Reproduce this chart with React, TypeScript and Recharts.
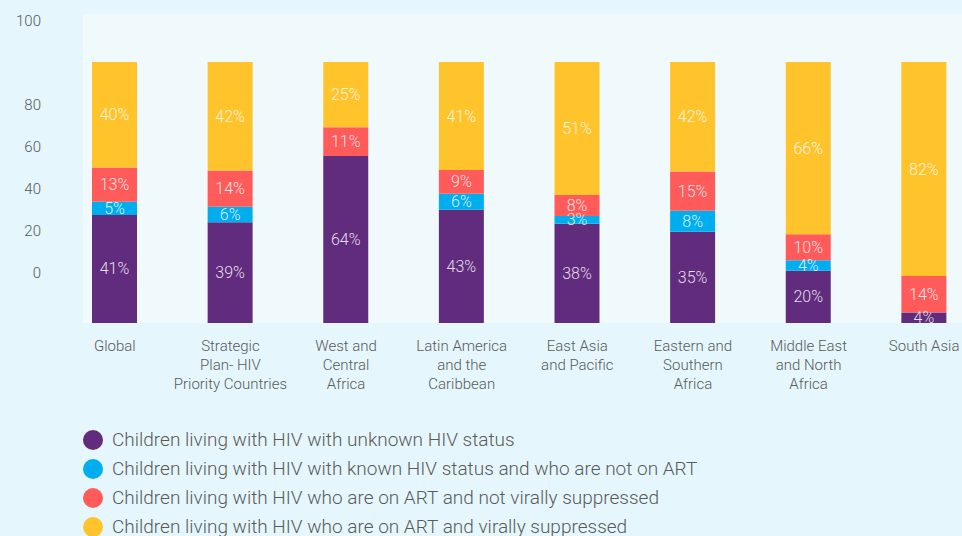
import React from 'react';
import { BarChart, Bar, XAxis, YAxis, Legend, LabelList } from 'recharts';

const CATEGORIES = [
  'Global',
  'Strategic\nPlan- HIV\nPriority Countries',
  'West and\nCentral\nAfrica',
  'Latin America\nand the\nCaribbean',
  'East Asia\nand Pacific',
  'Eastern and\nSouthern\nAfrica',
  'Middle East\nand North\nAfrica',
  'South Asia',
];

const UNKNOWN_STATUS = [41, 39, 64, 43, 38, 35, 20, 4];
const KNOWN_NOT_ON_ART = [5, 6, 0, 6, 3, 8, 4, 0];
const ON_ART_NOT_SUPPRESSED = [13, 14, 11, 9, 8, 15, 10, 14];
const ON_ART_SUPPRESSED = [40, 42, 25, 41, 51, 42, 66, 82];

const SERIES = [
  { key: 'unknown', name: 'Children living with HIV with unknown HIV status', color: '#622c7e', values: UNKNOWN_STATUS },
  { key: 'known', name: 'Children living with HIV with known HIV status and who are not on ART', color: '#00aeef', values: KNOWN_NOT_ON_ART },
  { key: 'notSuppressed', name: 'Children living with HIV who are on ART and not virally suppressed', color: '#ff5b5b', values: ON_ART_NOT_SUPPRESSED },
  { key: 'suppressed', name: 'Children living with HIV who are on ART and virally suppressed', color: '#ffc42c', values: ON_ART_SUPPRESSED },
];

const Y_LABELS = [0, 20, 40, 60, 80, 100];

// the source prints its y labels on a scale of their own, not lined up with the bars:
// "0" sits at ~19% of the bar height, each step of 20 adds ~16%, and "100" floats one step higher
const yLabelPos = (v: number) => 0.193 + (v === 100 ? 120 : v) * 0.00805;

const data = CATEGORIES.map((name, i) => {
  const row: Record<string, string | number> = { name };
  SERIES.forEach((s) => { row[s.key] = s.values[i]; });
  return row;
});

const FONT = 'Roboto, "Noto Sans", sans-serif';

const CategoryTick = (props: any) => {
  const { x, y, payload } = props;
  const lines = String(payload.value).split('\n');
  return (
    <text x={x} y={y} textAnchor="middle" fill="#5a5a5a" fontSize={15} fontWeight={300} fontFamily={FONT}>
      {lines.map((line, i) => (
        <tspan key={i} x={x} dy={i === 0 ? '0.71em' : 19}>{line}</tspan>
      ))}
    </text>
  );
};

const segmentLabel = (props: any) => {
  const { x, y, width, height, value } = props;
  if (!value) return null;
  return (
    <text
      x={x + width / 2}
      y={y + height / 2}
      textAnchor="middle"
      dominantBaseline="central"
      fill="#ffffff"
      fillOpacity={0.85}
      fontSize={16}
      fontWeight={300}
      fontFamily={FONT}
    >
      {value}%
    </text>
  );
};

const renderLegend = (props: any) => {
  const { payload } = props;
  return (
    <div style={{ fontFamily: FONT }}>
      {payload.map((entry: any) => (
        <div key={entry.value} style={{ display: 'flex', alignItems: 'center', height: 29 }}>
          <span style={{ width: 20, height: 20, borderRadius: 10, background: entry.color, marginRight: 9, flexShrink: 0 }} />
          <span style={{ fontSize: 19, fontWeight: 300, color: '#5a5a5a', whiteSpace: 'nowrap' }}>{entry.value}</span>
        </div>
      ))}
    </div>
  );
};

export default function App() {
  return (
    <div style={{ position: 'absolute', top: 0, left: 0, width: 962, height: 536, overflow: 'hidden', background: '#e5f6fc' }}>
      <div style={{ position: 'absolute', left: 83, top: 14, width: 879, height: 309, background: '#f0fafd' }} />
      <div style={{ position: 'absolute', left: 0, top: 0 }}>
        <BarChart
          width={982}
          height={536}
          data={data}
          stackOffset="expand"
          barSize={45}
          margin={{ top: 62, right: 0, bottom: 153, left: 0 }}
          style={{ overflow: 'visible' }}
        >
          <XAxis
            dataKey="name"
            height={60}
            axisLine={false}
            tickLine={false}
            tickMargin={11}
            interval={0}
            tick={<CategoryTick />}
          />
          <YAxis
            yAxisId="labels"
            width={57}
            type="number"
            ticks={Y_LABELS.map(yLabelPos)}
            tickFormatter={(_v: number, i: number) => String(Y_LABELS[i])}
            axisLine={false}
            tickLine={false}
            tickMargin={10}
            tick={{ fill: '#5a5a5a', fontSize: 15, fontWeight: 300, fontFamily: FONT }}
          />
          <YAxis yAxisId="bars" hide width={0} />
          <Legend
            layout="vertical"
            align="center"
            verticalAlign="middle"
            itemSorter={(item: any) => SERIES.findIndex((s) => s.name === item.value)}
            wrapperStyle={{ top: 425, left: 83, width: 'auto' }}
            content={renderLegend}
          />
          {SERIES.map((s) => (
            <Bar key={s.key} yAxisId="bars" dataKey={s.key} name={s.name} stackId="a" fill={s.color} isAnimationActive={false}>
              <LabelList dataKey={s.key} content={segmentLabel} />
            </Bar>
          ))}
        </BarChart>
      </div>
    </div>
  );
}
